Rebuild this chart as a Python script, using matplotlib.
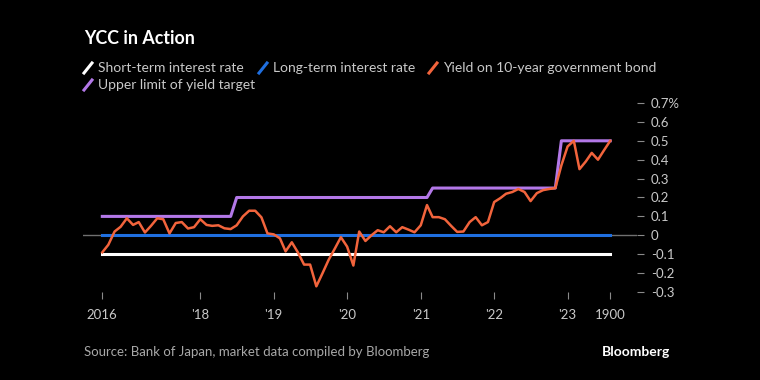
import pandas as pd
import matplotlib.pyplot as plt
from matplotlib.lines import Line2D

# ─── data (monthly, Sep 2016 - Aug 2023) ──────────────────────────────────────
dates = pd.date_range("2016-09-01", periods=84, freq="MS")

yield_10y = [
    -0.09, -0.05, 0.02, 0.045, 0.09, 0.055, 0.07, 0.015, 0.05, 0.09,
    0.085, 0.01, 0.065, 0.07, 0.036, 0.043, 0.085, 0.055, 0.05, 0.053,
    0.037, 0.033, 0.053, 0.10, 0.13, 0.13, 0.095, 0.01, 0.005, -0.016,
    -0.085, -0.037, -0.09, -0.155, -0.155, -0.27, -0.20, -0.13, -0.07, -0.01,
    -0.06, -0.16, 0.02, -0.03, 0.0, 0.027, 0.016, 0.048, 0.016, 0.043,
    0.03, 0.016, 0.053, 0.16, 0.096, 0.096, 0.085, 0.05, 0.018, 0.02,
    0.07, 0.096, 0.053, 0.07, 0.176, 0.197, 0.22, 0.229, 0.245, 0.229,
    0.181, 0.223, 0.239, 0.245, 0.25, 0.37, 0.47, 0.50, 0.35, 0.39,
    0.436, 0.40, 0.45, 0.50,
]
upper_limit = [0.1] * 22 + [0.2] * 32 + [0.25] * 21 + [0.5] * 9
short_rate = [-0.1] * 84
long_rate = [0.0] * 84

tick_dates = pd.to_datetime(["2016-09-01", "2018-01-01", "2019-01-01", "2020-01-01",
                             "2021-01-01", "2022-01-01", "2023-01-01", "2023-08-01"])
tick_labels = ["2016", "'18", "'19", "'20", "'21", "'22", "'23", "1900"]
y_ticks = [-0.3, -0.2, -0.1, 0, 0.1, 0.2, 0.3, 0.4, 0.5, 0.6, 0.7]
y_labels = ["-0.3", "-0.2", "-0.1", "0", "0.1", "0.2", "0.3", "0.4", "0.5", "0.6", "0.7%"]

WHITE, BLUE, ORANGE, PURPLE = "#ffffff", "#1f6fe0", "#f2643c", "#b378e8"
GREY_TXT = "#c9c9c9"

plt.rcParams["font.family"] = ["Lato", "DejaVu Sans"]

# ─── figure ───────────────────────────────────────────────────────────────────
fig = plt.figure(figsize=(7.6, 3.8), dpi=100, facecolor="black")
W, H = 760, 380
ax = fig.add_axes([83 / W, 1 - 292 / H, (637 - 83) / W, (292 - 103) / H])
ax.set_facecolor("black")

ax.axhline(0, color="#707070", lw=1, zorder=1)
ax.plot(dates, short_rate, color=WHITE, lw=2.2, zorder=2)
ax.plot(dates, long_rate, color=BLUE, lw=2.2, zorder=3)
ax.plot(dates, upper_limit, color=PURPLE, lw=2.2, zorder=3)
ax.plot(dates, yield_10y, color=ORANGE, lw=1.8, zorder=4)

ax.set_xlim(pd.Timestamp("2016-05-28"), pd.Timestamp("2023-12-12"))
ax.set_ylim(-0.3, 0.7)

ax.set_xticks(tick_dates)
ax.set_xticklabels(tick_labels)
ax.yaxis.tick_right()
ax.set_yticks(y_ticks)
ax.set_yticklabels(y_labels)
ax.tick_params(axis="x", colors="#8a8a8a", labelcolor=GREY_TXT, length=5,
               width=0.8, labelsize=9.5, pad=7)
ax.tick_params(axis="y", colors="#8a8a8a", labelcolor=GREY_TXT, length=5,
               width=0.8, labelsize=9.5, pad=5)
for s in ax.spines.values():
    s.set_visible(False)

# ─── title & legend ───────────────────────────────────────────────────────────
fig.text(84 / W, 1 - 38 / H, "YCC in Action", color="white", fontsize=12.8,
         fontweight="bold", va="center", ha="left")

legend_items = [
    (83, 68, WHITE, "Short-term interest rate"),
    (258, 68, BLUE, "Long-term interest rate"),
    (428, 68, ORANGE, "Yield on 10-year government bond"),
    (83, 85, PURPLE, "Upper limit of yield target"),
]
for x0, y0, col, label in legend_items:
    fig.add_artist(Line2D([(x0 + 1) / W, (x0 + 9) / W], [1 - (y0 + 5) / H, 1 - (y0 - 5) / H],
                          color=col, lw=2.2, transform=fig.transFigure))
    fig.text((x0 + 15) / W, 1 - y0 / H, label, color=GREY_TXT, fontsize=10,
             va="center", ha="left")

# ─── footer ───────────────────────────────────────────────────────────────────
fig.text(84 / W, 1 - 352 / H, "Source: Bank of Japan, market data compiled by Bloomberg",
         color="#a8a8a8", fontsize=9.5, va="center", ha="left")
fig.text(670 / W, 1 - 352 / H, "Bloomberg", color="white", fontsize=10,
         fontweight="bold", va="center", ha="right")

fig.savefig("out.png", dpi=100, facecolor="black")
